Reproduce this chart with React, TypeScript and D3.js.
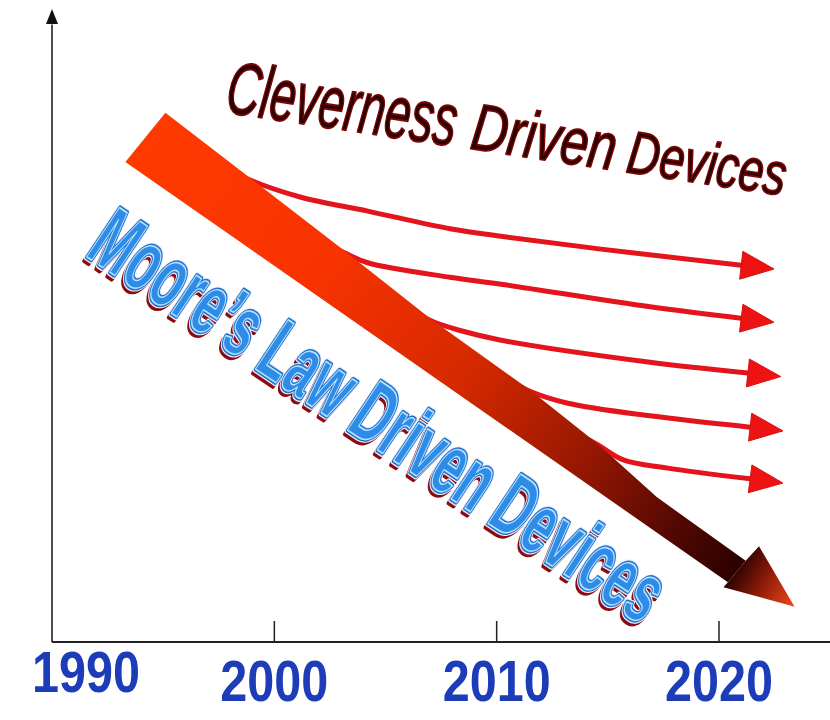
import React from "react";
import * as d3 from "d3";

const W = 830;
const H = 720;

// x axis: years, y axis: abstract "device size / performance" index 0..100
const tickYears = [1990, 2000, 2010, 2020];
const tickLabels = ["1990", "2000", "2010", "2020"];
const drawnTicks = [2000, 2010, 2020];

// Moore's-law band, [year, value]
const bandUpper: [number, number][] = [
  [1995.1, 84.0], [1998.9, 73.7], [2003.3, 61.7], [2007.1, 51.1],
  [2011.5, 40.0], [2014.5, 31.6], [2017.2, 23.0], [2021.2, 12.9],
];
const bandLower: [number, number][] = [[2020.4, 9.5], [1993.3, 76.2]];
const bandHead: [number, number][] = [[2021.8, 15.2], [2023.4, 5.6], [2020.2, 8.7]];

// cleverness-driven branches, [year, value]
const branch1: [number, number][] = [[1997.6, 75.8], [1998.8, 73.5], [2001.2, 70.6], [2004.2, 68.4], [2007.9, 65.6], [2010.2, 64.4], [2014.6, 62.4], [2021.0, 59.8]];
const branch2: [number, number][] = [[2001.9, 64.1], [2003.2, 61.7], [2004.2, 60.2], [2007.9, 57.9], [2010.2, 56.8], [2016.9, 53.2], [2021.0, 51.4]];
const branch3: [number, number][] = [[2005.9, 53.3], [2007.1, 50.9], [2008.4, 49.4], [2010.2, 47.9], [2016.9, 44.4], [2021.3, 42.7]];
const branch4: [number, number][] = [[2010.3, 42.2], [2011.5, 39.8], [2013.2, 37.9], [2016.9, 35.9], [2021.4, 34.1]];
const branch5: [number, number][] = [[2013.3, 33.7], [2014.5, 31.4], [2015.7, 28.9], [2017.7, 27.6], [2021.4, 25.9]];
const branches = [branch1, branch2, branch3, branch4, branch5];

const cleverWords = ["Cleverness", "Driven", "Devices"];
const cleverEms = [5.0, 2.889, 3.556]; // Arial/Liberation italic advance widths (em)
const mooreText = "Moore\u2019s Law Driven Devices";

export default function App() {
  const x = d3.scaleLinear().domain([1990, 2020]).range([52, 719]);
  const y = d3.scaleLinear().domain([0, 100]).range([642, 12]);
  const px = (d: [number, number]) => [x(d[0]), y(d[1])] as [number, number];

  const shaftPts = [...bandUpper, ...bandLower].map(px);
  const headPts = [bandUpper[bandUpper.length - 1], ...bandHead, bandLower[0]].map(px);
  const tailC = [(x(bandUpper[0][0]) + x(bandLower[1][0])) / 2, (y(bandUpper[0][1]) + y(bandLower[1][1])) / 2];
  const baseC = [(x(bandUpper[bandUpper.length - 1][0]) + x(bandLower[0][0])) / 2, (y(bandUpper[bandUpper.length - 1][1]) + y(bandLower[0][1])) / 2];
  const tip = px(bandHead[1]);

  const line = d3
    .line<[number, number]>()
    .x((d) => x(d[0]))
    .y((d) => y(d[1]))
    .curve(d3.curveCatmullRom.alpha(0.5));

  const arrowHead = (pts: [number, number][]) => {
    const a = px(pts[pts.length - 2]);
    const b = px(pts[pts.length - 1]);
    const dx = b[0] - a[0];
    const dy = b[1] - a[1];
    const L = Math.hypot(dx, dy);
    const ux = dx / L, uy = dy / L;
    const len = 33, hw = 14;
    const t = [b[0] + ux * len, b[1] + uy * len];
    const c1 = [b[0] - uy * hw, b[1] + ux * hw];
    const c2 = [b[0] + uy * hw, b[1] - ux * hw];
    return `M${t[0]},${t[1]}L${c1[0]},${c1[1]}L${c2[0]},${c2[1]}Z`;
  };

  const poly = (p: [number, number][]) => "M" + p.map((q) => q.join(",")).join("L") + "Z";

  // Cleverness text layout (perspective-like shrinking)
  const cAng = 8.5;
  const cSlope = Math.tan((cAng * Math.PI) / 180);
  const cLayout = [
    { x0: 224, fs: 74, len: 232 },
    { x0: 469, fs: 66, len: 146 },
    { x0: 625, fs: 60, len: 160 },
  ];
  const cBase = 112;

  // Moore's text layout
  const mx = 84, my = 255, mAng = 33.6, mLen = 669, mFs = 86, sx = 0.565;
  const mooreLayer = (key: string, props: any) => (
    <text
      key={key}
      x={0}
      y={0}
      textLength={mLen / sx}
      lengthAdjust="spacing"
      strokeLinejoin="round"
      vectorEffect="non-scaling-stroke"
      {...props}
    >
      {mooreText}
    </text>
  );
  const mTransform = (dx: number, dy: number) =>
    `translate(${dx},${dy}) rotate(${mAng},${mx},${my}) translate(${mx},${my}) scale(${sx},1)`;

  const labelX = [86, x(2000), x(2010), x(2020)];

  return (
    <svg width={W} height={H} style={{ position: "absolute", left: 0, top: 0, background: "#ffffff" }}>
      <defs>
        <linearGradient id="shaft" gradientUnits="userSpaceOnUse" x1={tailC[0]} y1={tailC[1]} x2={baseC[0]} y2={baseC[1]}>
          <stop offset="0" stopColor="#ff3a00" />
          <stop offset="0.3" stopColor="#f83300" />
          <stop offset="0.55" stopColor="#d42800" />
          <stop offset="0.75" stopColor="#941702" />
          <stop offset="0.9" stopColor="#520802" />
          <stop offset="1" stopColor="#2c0000" />
        </linearGradient>
        <linearGradient id="head" gradientUnits="userSpaceOnUse" x1={baseC[0] - 4} y1={baseC[1] - 3} x2={tip[0]} y2={tip[1]}>
          <stop offset="0" stopColor="#240000" />
          <stop offset="0.45" stopColor="#8a1a08" />
          <stop offset="1" stopColor="#f24a1a" />
        </linearGradient>
      </defs>

      {/* axes */}
      <line x1={x(1990)} y1={y(0)} x2={x(1990)} y2={y(98)} stroke="#222" strokeWidth={1.6} />
      <path d={`M${x(1990)},${y(100) - 3}L${x(1990) - 6},${y(100) + 12}L${x(1990) + 6},${y(100) + 12}Z`} fill="#111" />
      <line x1={x(1990)} y1={y(0)} x2={W} y2={y(0)} stroke="#222" strokeWidth={1.8} />
      {drawnTicks.map((t) => (
        <line key={t} x1={x(t)} x2={x(t)} y1={y(0)} y2={y(0) - 21} stroke="#222" strokeWidth={1.5} />
      ))}
      {tickYears.map((t, i) => (
        <text
          key={t}
          x={labelX[i]}
          y={i === 0 ? 692 : 701}
          textAnchor="middle"
          fontFamily="'Liberation Sans', Arial, sans-serif"
          fontWeight="bold"
          fontSize={58}
          textLength={108}
          lengthAdjust="spacingAndGlyphs"
          fill="#1d3db8"
        >
          {tickLabels[i]}
        </text>
      ))}

      {/* branches */}
      {branches.map((b, i) => (
        <g key={i}>
          <path d={line(b) || ""} fill="none" stroke="#e3141c" strokeWidth={5} strokeLinecap="round" />
          <path d={arrowHead(b)} fill="#ee1313" stroke="#d80f14" strokeWidth={1} />
        </g>
      ))}

      {/* main band */}
      <path d={poly(shaftPts)} fill="url(#shaft)" />
      <path d={poly(headPts)} fill="url(#head)" />

      {/* Cleverness text */}
      {cleverWords.map((w, i) => {
        const L = cLayout[i];
        const yy = cBase + (L.x0 - 224) * cSlope;
        const s = L.len / (cleverEms[i] * L.fs);
        return (
          <text
            key={w}
            x={0}
            y={0}
            transform={`translate(${L.x0},${yy}) rotate(${cAng}) scale(${s},1)`}
            fontFamily="'Liberation Sans', Arial, sans-serif"
            fontStyle="italic"
            fontSize={L.fs}
            fill="#2a0000"
            stroke="#7a0606"
            strokeWidth={1.6}
            strokeLinejoin="round"
            vectorEffect="non-scaling-stroke"
          >
            {w}
          </text>
        );
      })}

      {/* Moore's law text: shadow, white separation, blue outline, light inline */}
      <g fontFamily="'Liberation Sans Narrow', 'Liberation Sans', Arial, sans-serif" fontWeight="bold" fontSize={mFs}>
        <g transform={mTransform(-2.5, 3.5)}>
          {mooreLayer("shadow", { fill: "#8c0a10", stroke: "#8c0a10", strokeWidth: 4.5 })}
        </g>
        <g transform={mTransform(0, 0)}>
          {mooreLayer("white", { fill: "#ffffff", stroke: "#f4f0f4", strokeWidth: 6 })}
          {mooreLayer("blue", { fill: "#2e8ce6", stroke: "#1e74d2", strokeWidth: 4, style: { paintOrder: "stroke" } })}
          {mooreLayer("inline", { fill: "none", stroke: "#b8e2ff", strokeWidth: 1.3 })}
        </g>
      </g>
    </svg>
  );
}
